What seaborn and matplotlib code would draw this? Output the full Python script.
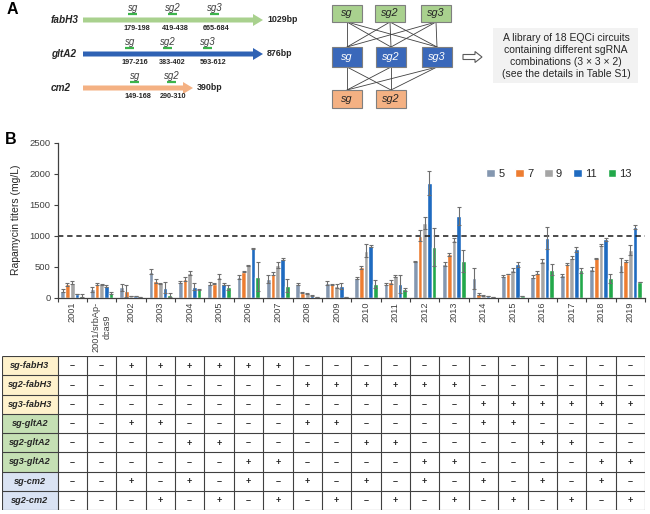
import numpy as np
import pandas as pd
import matplotlib
matplotlib.use("Agg")
import matplotlib.pyplot as plt
import seaborn as sns
from matplotlib.patches import Rectangle, FancyArrow

# ---------------- data ----------------
strains = ["2001", "2001/srbAp-\ndcas9", "2002", "2003", "2004", "2005", "2006",
           "2007", "2008", "2009", "2010", "2011", "2012", "2013", "2014", "2015",
           "2016", "2017", "2018", "2019"]
days = ["5", "7", "9", "11", "13"]

v5 = [113, 134, 167, 420, 258, 226, 339, 301, 220, 242, 323, 220, 586, 543, 317, 349, 339, 360, 462, 527]
v7 = [215, 215, 108, 269, 296, 226, 420, 387, 81, 215, 489, 253, 1000, 699, 59, 382, 403, 548, 634, 591]
v9 = [242, 215, 27, 231, 403, 339, 521, 527, 70, 188, 758, 355, 1199, 930, 32, 446, 591, 645, 849, 769]
v11 = [59, 188, 27, 161, 177, 226, 796, 624, 38, 188, 833, 220, 1844, 1317, 27, 543, 968, 785, 941, 1145]
v13 = [32, 70, 10, 38, 134, 167, 339, 194, 10, 16, 220, 134, 823, 591, 10, 27, 452, 446, 312, 253]

e5 = [25, 40, 60, 35, 15, 20, 30, 60, 15, 30, 15, 10, 10, 25, 170, 20, 25, 25, 30, 110]
e7 = [20, 15, 90, 25, 30, 10, 10, 25, 10, 5, 20, 30, 90, 25, 15, 5, 20, 15, 10, 15]
e9 = [25, 10, 5, 10, 30, 45, 10, 50, 10, 25, 105, 15, 95, 35, 5, 25, 30, 20, 15, 75]
e11 = [5, 10, 5, 90, 60, 15, 5, 20, 5, 50, 15, 150, 195, 150, 5, 40, 178, 40, 20, 35]
e13 = [25, 15, 3, 30, 10, 35, 230, 100, 3, 3, 60, 30, 305, 177, 3, 5, 90, 40, 70, 5]

row_labels = ["sg-fabH3", "sg2-fabH3", "sg3-fabH3", "sg-gltA2", "sg2-gltA2",
              "sg3-gltA2", "sg-cm2", "sg2-cm2"]
t_sg_fabH3 = "--++++++-" + "-----------"
t_sg2_fabH3 = "--------+" + "+++++------"
t_sg3_fabH3 = "---------" + "-----++++++"
t_sg_gltA2 = "--++----+" + "+----++----"
t_sg2_gltA2 = "----++---" + "-++----++--"
t_sg3_gltA2 = "------++-" + "---++----++"
t_sg_cm2 = "--+-+-+-+" + "-+-+-+-+-+-"
t_sg2_cm2 = "---+-+-+-" + "+-+-+-+-+-+"
table_rows = [t_sg_fabH3, t_sg2_fabH3, t_sg3_fabH3, t_sg_gltA2, t_sg2_gltA2,
              t_sg3_gltA2, t_sg_cm2, t_sg2_cm2]

genes = ["fabH3", "gltA2", "cm2"]
gene_len = ["1029bp", "876bp", "390bp"]
gene_sites = [["179-198", "419-438", "665-684"],
              ["197-216", "383-402", "593-612"],
              ["149-168", "290-310"]]
sg_names = ["sg", "sg2", "sg3"]

colors = ["#8497B0", "#ED7D31", "#A5A5A5", "#1F6BC0", "#22A84A"]

# ---------------- style ----------------
sns.set_theme(style="white")
plt.rcParams["font.family"] = ["Liberation Sans", "DejaVu Sans"]
TXT = "#262626"

W, H = 650, 514
fig = plt.figure(figsize=(6.5, 5.14), dpi=100)


def px_axes(x0, y0, x1, y1):
    return fig.add_axes([x0 / W, 1 - y1 / H, (x1 - x0) / W, (y1 - y0) / H])


# ---------------- panel A (schematic) ----------------
axA = fig.add_axes([0, 0, 1, 1])
axA.set_xlim(0, W)
axA.set_ylim(H, 0)
axA.axis("off")

axA.text(7, 10, "A", fontsize=11.5, fontweight="bold", ha="left", va="center", color="black")
axA.text(5, 140, "B", fontsize=11.5, fontweight="bold", ha="left", va="center", color="black")

row_y = [20, 54, 88]
arrow_end = [263, 263, 193]
arrow_col = ["#A9D18E", "#2F62B4", "#F4B183"]
sg_x = [[133, 173, 215], [130, 168, 208], [135, 172]]
num_x = [[137, 175, 216], [135, 172, 213], [138, 173]]
for i, g in enumerate(genes):
    y = row_y[i]
    axA.text(51, y, g, fontsize=7.2, fontweight="bold", style="italic", ha="left", va="center", color=TXT)
    axA.add_patch(FancyArrow(83, y, arrow_end[i] - 83, 0, width=5, head_width=12, head_length=10,
                             length_includes_head=True, fc=arrow_col[i], ec="none"))
    axA.text(arrow_end[i] + 4, y, gene_len[i], fontsize=6.4, fontweight="bold", ha="left", va="center", color=TXT)
    for j, s in enumerate(gene_sites[i]):
        axA.text(sg_x[i][j], y - 12, sg_names[j], fontsize=7, style="italic", ha="center", va="center", color="#404040")
        axA.plot([sg_x[i][j] - 5, sg_x[i][j] + 4], [y - 6.5, y - 6.5], color="#3CB44B", lw=1.6, solid_capstyle="butt")
        axA.text(num_x[i][j], y + 8.5, s, fontsize=5.2, fontweight="bold", ha="center", va="center", color=TXT)

# box diagram
top_boxes = [(332, 362), (375, 405), (421, 451)]
mid_boxes = [(332, 362), (376, 406), (422, 452)]
bot_boxes = [(332, 362), (376, 406)]
for x0, x1 in top_boxes:
    for m0, m1 in mid_boxes:
        axA.plot([(x0 + x1) / 2, (m0 + m1) / 2], [22, 47], color="#404040", lw=0.6)
for m0, m1 in mid_boxes:
    for b0, b1 in bot_boxes:
        axA.plot([(m0 + m1) / 2, (b0 + b1) / 2], [67, 90], color="#404040", lw=0.6)
for (x0, x1), s in zip(top_boxes, sg_names):
    axA.add_patch(Rectangle((x0, 5), x1 - x0, 17, fc="#A9D18E", ec="#7F7F7F", lw=0.8, zorder=3))
    axA.text((x0 + x1) / 2, 13.5, s, fontsize=7.8, style="italic", ha="center", va="center", color=TXT, zorder=4)
for (x0, x1), s in zip(mid_boxes, sg_names):
    axA.add_patch(Rectangle((x0, 47), x1 - x0, 20, fc="#3A68BA", ec="#7F7F7F", lw=0.8, zorder=3))
    axA.text((x0 + x1) / 2, 57, s, fontsize=7.8, style="italic", ha="center", va="center", color="white", zorder=4)
for (x0, x1), s in zip(bot_boxes, sg_names[:2]):
    axA.add_patch(Rectangle((x0, 90), x1 - x0, 18, fc="#F4B183", ec="#7F7F7F", lw=0.8, zorder=3))
    axA.text((x0 + x1) / 2, 99, s, fontsize=7.8, style="italic", ha="center", va="center", color=TXT, zorder=4)

axA.add_patch(FancyArrow(463, 57, 19, 0, width=5, head_width=11, head_length=7,
                         length_includes_head=True, fc="white", ec="#595959", lw=0.8))
axA.add_patch(Rectangle((493, 28), 145, 55, fc="#F2F2F2", ec="none"))
axA.text(566, 56, "A library of 18 EQCi circuits\ncontaining different sgRNA\ncombinations (3 × 3 × 2)\n(see the details in Table S1)",
         fontsize=7.5, ha="center", va="center", color=TXT, linespacing=1.25)

# ---------------- panel B (bars) ----------------
df = pd.DataFrame({
    "strain": np.repeat(strains, len(days)),
    "day": days * len(strains),
    "titer": np.column_stack([v5, v7, v9, v11, v13]).ravel(),
})
errs = [e5, e7, e9, e11, e13]

axB = px_axes(57.5, 142.7, 645, 297.7)
sns.barplot(data=df, x="strain", y="titer", hue="day", order=strains, hue_order=days,
            palette=colors, width=0.8, errorbar=None, saturation=1, ax=axB)

for cont, e in zip(axB.containers, errs):
    xs = [b.get_x() + b.get_width() / 2 for b in cont]
    ys = [b.get_height() for b in cont]
    axB.errorbar(xs, ys, yerr=e, fmt="none", ecolor="#6E6E6E", elinewidth=0.8,
                 capsize=1.5, capthick=0.8, zorder=5)

axB.axhline(1000, color="#1A1A1A", lw=1.1, ls=(0, (3.5, 2.5)), zorder=1)
axB.set_xlim(-0.5, 19.5)
axB.set_ylim(0, 2500)
axB.set_yticks(np.arange(0, 2501, 500))
axB.tick_params(axis="y", labelsize=6.8, labelcolor="#404040", length=3, width=0.8,
                color="#404040", left=True, pad=2)
axB.set_xticks(range(len(strains)))
axB.set_xticklabels(strains, rotation=90, fontsize=6.6, color="#404040", va="top",
                    ha="center", multialignment="center")
axB.tick_params(axis="x", which="major", length=0, pad=3)
axB.set_xticks(np.arange(-0.5, 20, 1), minor=True)
axB.tick_params(axis="x", which="minor", length=3, width=0.8, color="#404040", bottom=True)
for s in ["top", "right"]:
    axB.spines[s].set_visible(False)
for s in ["left", "bottom"]:
    axB.spines[s].set_color("#404040")
    axB.spines[s].set_linewidth(0.9)
axB.set_xlabel("")
axB.set_ylabel("Rapamycin titers (mg/L)", fontsize=7.5, color=TXT, labelpad=6)
axB.legend(ncol=5, loc="center right", bbox_to_anchor=(0.985, 0.80), frameon=False,
           handlelength=0.8, handleheight=0.8, handletextpad=0.25, columnspacing=1.0,
           fontsize=8, borderaxespad=0)

# ---------------- table ----------------
gw = (645 - 57.5) / 20.0
L = -0.5 - (57.5 - 2) / gw
axT = px_axes(2, 356, 645, 510)
axT.set_xlim(L, 19.5)
axT.set_ylim(8, 0)
axT.axis("off")
row_bg = ["#FFF2CC"] * 3 + ["#C5E0B4"] * 3 + ["#DAE3F3"] * 2
for r, (lab, vals) in enumerate(zip(row_labels, table_rows)):
    axT.add_patch(Rectangle((L, r), -0.5 - L, 1, fc=row_bg[r], ec="none"))
    axT.text((L - 0.5) / 2, r + 0.5, lab, fontsize=6.6, fontweight="bold", style="italic",
             ha="center", va="center", color=TXT)
    for c, ch in enumerate(vals):
        axT.text(c, r + 0.52, "+" if ch == "+" else "–", fontsize=6.5, fontweight="bold",
                 ha="center", va="center", color=TXT)
axT.hlines(np.arange(0, 9), L, 19.5, color="#404040", lw=0.8)
axT.vlines(np.concatenate([[L], np.arange(-0.5, 20, 1)]), 0, 8, color="#404040", lw=0.8)

fig.savefig("out.png", dpi=100)
